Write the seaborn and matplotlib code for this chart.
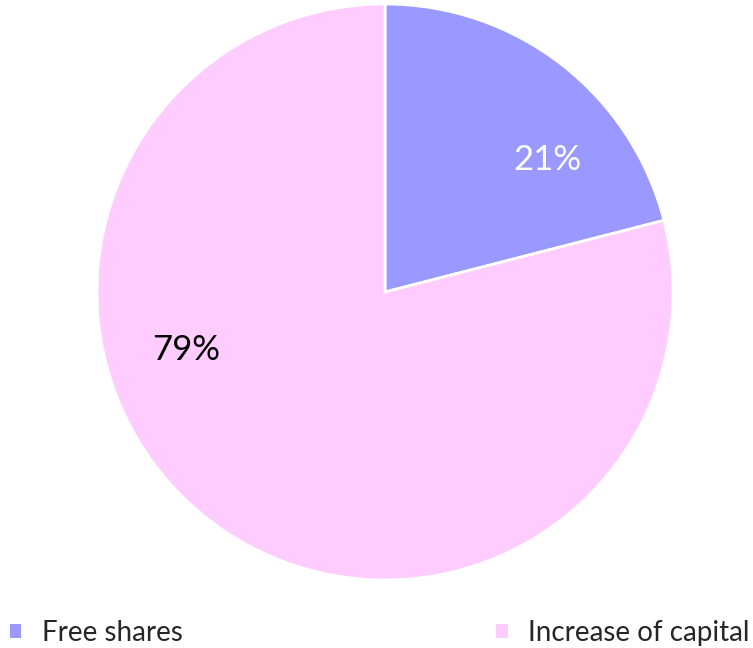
import matplotlib
matplotlib.use("Agg")
import matplotlib.pyplot as plt
import seaborn as sns

categories = ["Free shares", "Increase of capital"]
shares = [21, 79]
pct_labels = ["21%", "79%"]
colors = ["#9999FF", "#FFCCFF"]
label_colors = ["white", "black"]

sns.set_theme(style="white")
plt.rcParams["font.family"] = ["Lato", "DejaVu Sans"]

fig = plt.figure(figsize=(7.53, 6.48), dpi=100)
ax = fig.add_axes([97 / 753, 68 / 648, 576 / 753, 576 / 648])

wedges, _ = ax.pie(shares, colors=colors, startangle=90, counterclock=False,
                   radius=1, wedgeprops=dict(edgecolor="white", linewidth=2))
ax.set_xlim(-1, 1)
ax.set_ylim(-1, 1)
ax.set_aspect("equal")
ax.axis("off")

# label spots (Excel best-fit placement)
label_pos = [(0.5625, 0.458), (-0.691, -0.201)]
for txt, (x, y), c in zip(pct_labels, label_pos, label_colors):
    ax.text(x, y, txt, ha="center", va="center", fontsize=25, color=c)

fig.legend(wedges, categories, loc="lower left", bbox_to_anchor=(0.0, -0.012),
           ncol=2, frameon=False, fontsize=20, handlelength=0.4, handleheight=0.4,
           handletextpad=0.75, columnspacing=11.3, borderaxespad=0, borderpad=0.35)
for h in fig.legends[0].legend_handles:
    h.set_edgecolor("none")

fig.savefig("out.png", dpi=100)
